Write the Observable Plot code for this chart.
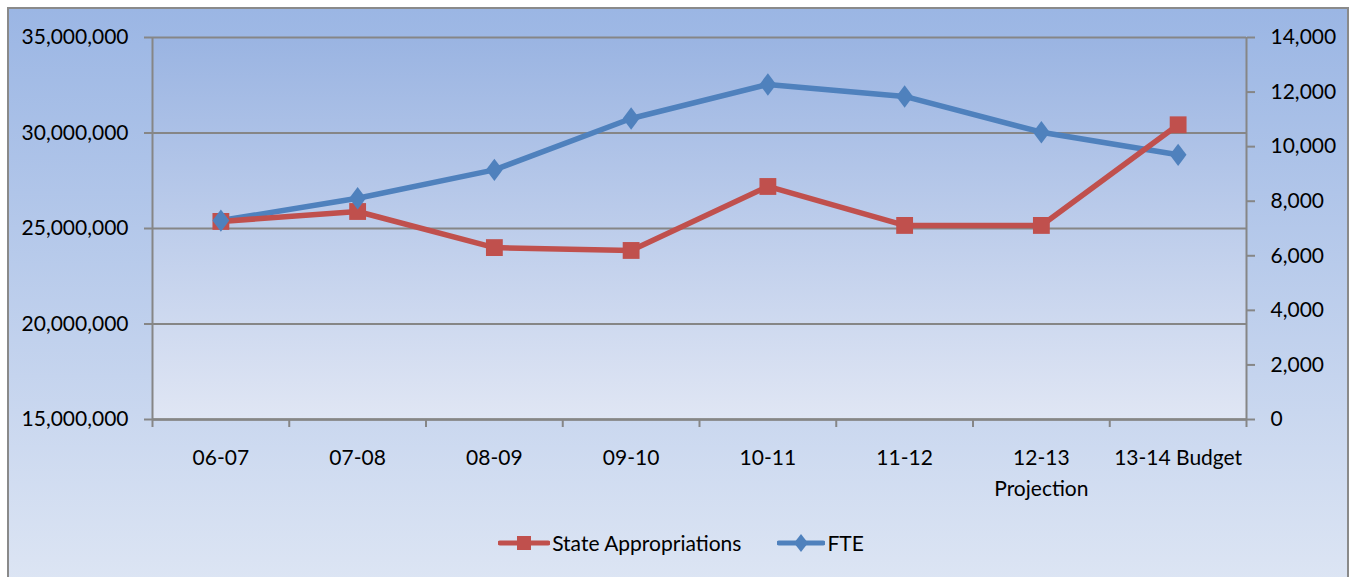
<!DOCTYPE html>
<html>
<head>
<meta charset="utf-8">
<script src="https://cdn.jsdelivr.net/npm/d3@7"></script>
<script src="https://cdn.jsdelivr.net/npm/@observablehq/plot@0.6"></script>
<style>
  html, body { margin: 0; padding: 0; background: #fff; }
  #page { position: relative; width: 1357px; height: 577px; overflow: hidden; font-family: Lato, "Open Sans", sans-serif; }
  #box { position: absolute; left: 7px; top: 7px; width: 1342px; height: 590px;
         border: 2px solid #8a8a8a; background: linear-gradient(to bottom, #9bb6e4 0%, #dee6f4 100%); box-sizing: border-box; }
  #plot { position: absolute; left: 0; top: 0; }
  #legend { position: absolute; left: 0; top: 530px; width: 1362px; display: flex; justify-content: center; align-items: center;
            font-size: 21px; color: #000; gap: 36px; }
  .item { display: flex; align-items: center; }
  .item svg { display: block; margin-right: 2px; }
</style>
</head>
<body>
<svg width="0" height="0" style="position:absolute">
  <defs>
    <linearGradient id="plotGrad" x1="0" y1="0" x2="0" y2="1">
      <stop offset="0%" stop-color="#9ab4e2"/>
      <stop offset="100%" stop-color="#e0e6f4"/>
    </linearGradient>
  </defs>
</svg>
<div id="page">
  <div id="box"></div>
  <div id="plot"></div>
  <div id="legend"></div>
</div>
<script>
const categories = ["06-07", "07-08", "08-09", "09-10", "10-11", "11-12", "12-13\nProjection", "13-14 Budget"];
const stateAppropriations = [25370000, 25890000, 24000000, 23850000, 27200000, 25160000, 25160000, 30430000];
const fte = [7290, 8110, 9150, 11030, 12280, 11840, 10530, 9700];
const leftTicks = [15000000, 20000000, 25000000, 30000000, 35000000];
const rightTicks = [0, 2000, 4000, 6000, 8000, 10000, 12000, 14000];

const RED = "#c0504d", BLUE = "#4f81bd", GRID = "#868686";
const leftMin = 15000000, leftMax = 35000000, rightMax = 14000;
const toLeft = v => leftMin + v * (leftMax - leftMin) / rightMax;
const fromLeft = v => (v - leftMin) * rightMax / (leftMax - leftMin);

const data = categories.map((c, i) => ({cat: c, pos: i + 0.5, sa: stateAppropriations[i], fte: fte[i]}));
const boundaries = d3.range(0, categories.length + 1);

const diamond = {
  draw(ctx, size) {
    const r = Math.sqrt(size / Math.PI);
    const w = r * 1.05, h = r * 1.4;
    ctx.moveTo(0, -h); ctx.lineTo(w, 0); ctx.lineTo(0, h); ctx.lineTo(-w, 0); ctx.closePath();
  }
};

const chart = Plot.plot({
  width: 1357,
  height: 500,
  marginLeft: 152,
  marginRight: 111,
  marginTop: 37,
  marginBottom: 81,
  style: {background: "transparent", fontFamily: "Lato, 'Open Sans', sans-serif", fontSize: "21px", color: "#000", overflow: "visible"},
  x: {type: "linear", domain: [0, categories.length], axis: null},
  y: {domain: [leftMin, leftMax], axis: null},
  marks: [
    Plot.frame({fill: "url(#plotGrad)", stroke: null}),
    Plot.gridY(leftTicks, {stroke: GRID, strokeOpacity: 1, strokeWidth: 2}),
    Plot.ruleX([0, categories.length], {stroke: GRID, strokeWidth: 2}),
    Plot.ruleY([leftMin], {stroke: GRID, strokeWidth: 2.5}),
    Plot.axisY({anchor: "left", ticks: leftTicks, tickSize: 8, tickPadding: 16, tickFormat: d3.format(","), stroke: GRID, strokeWidth: 2, label: null}),
    Plot.axisY({anchor: "right", ticks: rightTicks.map(toLeft), tickSize: 8, tickPadding: 16,
                tickFormat: v => d3.format(",")(Math.round(fromLeft(v))), stroke: GRID, strokeWidth: 2, label: null}),
    Plot.axisX({anchor: "bottom", ticks: boundaries, tickSize: 8, tickFormat: () => "", stroke: GRID, strokeWidth: 2, label: null}),
    Plot.axisX({anchor: "bottom", ticks: data.map(d => d.pos), tickSize: 0, tickPadding: 24, lineHeight: 1.45,
                tickFormat: v => categories[Math.floor(v)], label: null}),
    Plot.line(data, {x: "pos", y: d => toLeft(d.fte), stroke: BLUE, strokeWidth: 5.5}),
    Plot.line(data, {x: "pos", y: "sa", stroke: RED, strokeWidth: 5.5}),
    Plot.dot(data, {x: "pos", y: "sa", symbol: "square", r: 9.5, fill: RED, stroke: null}),
    Plot.dot(data, {x: "pos", y: d => toLeft(d.fte), symbol: diamond, r: 8, fill: BLUE, stroke: null})
  ]
});
document.getElementById("plot").appendChild(chart);

const legendItems = [
  {label: "State Appropriations", color: RED, shape: "square"},
  {label: "FTE", color: BLUE, shape: "diamond"}
];
const legend = document.getElementById("legend");
legendItems.forEach(it => {
  const div = document.createElement("div");
  div.className = "item";
  const w = it.shape === "square" ? 52 : 48;
  const marker = it.shape === "square"
    ? `<rect x="${w/2-7}" y="3" width="14" height="14" fill="${it.color}"/>`
    : `<path d="M${w/2},1 L${w/2+7},10 L${w/2},19 L${w/2-7},10 Z" fill="${it.color}"/>`;
  div.innerHTML = `<svg width="${w}" height="20"><line x1="2" y1="10" x2="${w-2}" y2="10" stroke="${it.color}" stroke-width="5" stroke-linecap="round"/>${marker}</svg><span>${it.label}</span>`;
  legend.appendChild(div);
});
</script>
</body>
</html>
